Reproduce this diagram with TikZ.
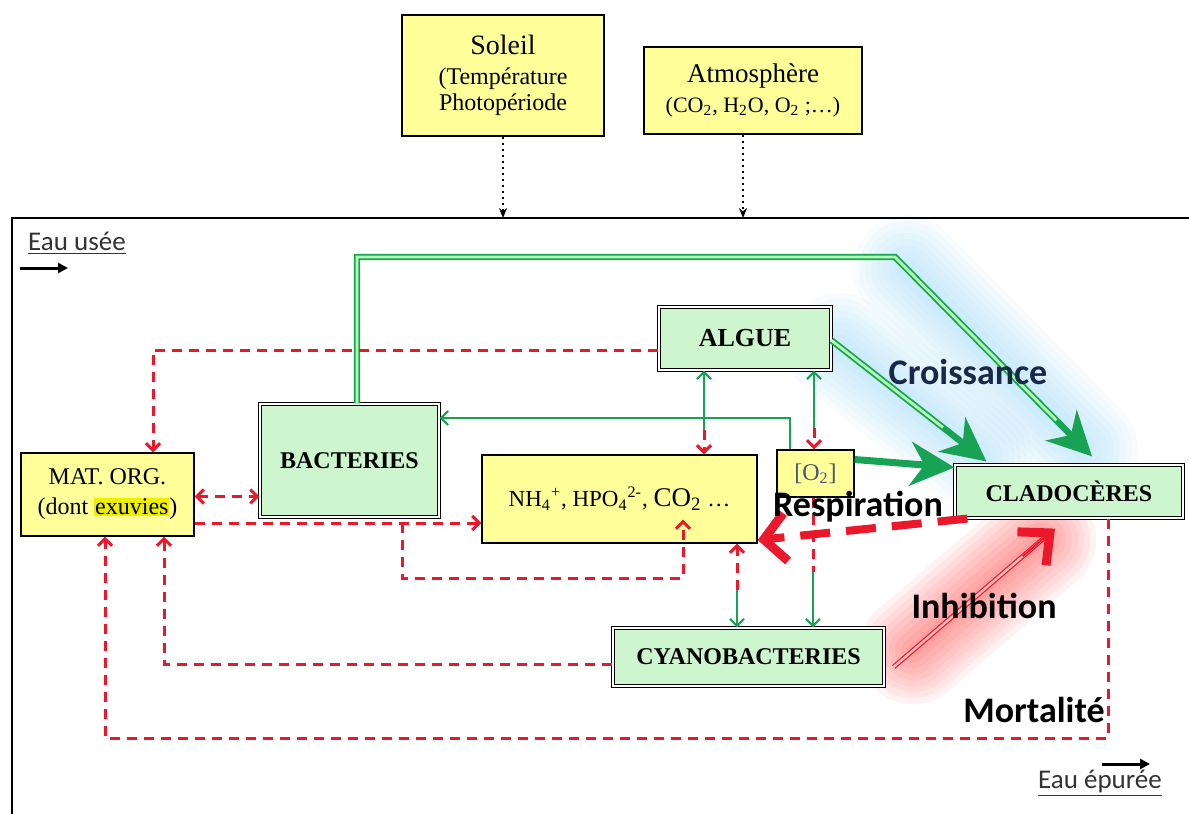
\documentclass[tikz,border=0pt]{standalone}
\usepackage{fontspec}
\setmainfont{Liberation Serif}
\newfontfamily\calib{Carlito}
\usetikzlibrary{arrows.meta,calc,backgrounds}

\definecolor{boxyellow}{RGB}{255,255,153}
\definecolor{boxgreen}{RGB}{206,246,206}
\definecolor{linegreen}{RGB}{24,163,84}
\definecolor{linered}{RGB}{234,24,42}
\definecolor{glowblue}{RGB}{130,205,245}
\definecolor{otwoblue}{RGB}{70,85,120}
\definecolor{hiyellow}{RGB}{238,238,0}
\definecolor{croissblue}{RGB}{25,40,70}

\tikzset{
  jaune/.style={draw=black, line width=0.7pt, fill=boxyellow, align=center, inner sep=2pt},
  vertbox/.style={draw=black, line width=0.6pt, double=white, double distance=1.2pt,
    fill=boxgreen, align=center, font=\bfseries\fontsize{12}{13}\selectfont},
  rouge/.style={draw=linered, line width=1.5pt, dash pattern=on 5pt off 3.5pt, ->},
  vert/.style={draw=linegreen, line width=1.1pt, ->},
  dblvert/.style={draw=linegreen, line width=0.9pt, double=green!30!white, double distance=1.4pt},
  bigvert/.style={draw=linegreen, line width=2pt, -{Stealth[length=22pt,width=22pt,inset=7pt]}},
  dblrouge/.style={draw=linered, line width=0.6pt, double=red!25!white, double distance=1.2pt},
  bigrouge/.style={draw=linered, line width=1pt, -{Straight Barb[length=12pt,width=22pt,line width=4.5pt]}},
  respi/.style={draw=linered, line width=4pt, dash pattern=on 15pt off 8pt,
    -{Straight Barb[length=11pt,width=24pt,line width=4.5pt]}},
  pointille/.style={draw=black, line width=1pt, dotted, -{Stealth[length=5pt,width=4pt]}},
  flux/.style={draw=black, line width=1.5pt, -{Triangle[length=5pt,width=5pt]}},
  lbl/.style={font=\calib\bfseries\fontsize{18}{20}\selectfont, inner sep=0pt},
  eau/.style={font=\calib\fontsize{13.5}{15}\selectfont, text=black!80, inner sep=0pt},
  >={Straight Barb[length=3.5pt,width=7pt]}
}

\begin{document}
\begin{tikzpicture}[x=0.5pt, y=-0.5pt]
\useasboundingbox (0,0) rectangle (1189,814);

% Bassin
\draw[line width=0.8pt] (1189,218) -- (12,218) -- (12,814);
\coordinate (haut) at (0,218);

% Facteurs externes
\node[jaune, font=\fontsize{12}{13}\selectfont, minimum width=101pt, minimum height=60.5pt] (soleil) at (503,75.5)
  {{\fontsize{14}{14}\selectfont Soleil}\\[2pt](Température\\Photopériode};
\node[jaune, font=\fontsize{11}{14}\selectfont, minimum width=109pt, minimum height=43.5pt] (atmo) at (753,90.5)
  {{\fontsize{13.5}{14}\selectfont Atmosphère}\\[1pt](CO\textsubscript{2}, H\textsubscript{2}O, O\textsubscript{2} ;…)};
\draw[pointille] (soleil.south) -- (soleil.south |- haut);
\draw[pointille] ([xshift=-5pt]atmo.south) -- ([xshift=-5pt]atmo.south |- haut);

% Compartiments
\node[vertbox, font=\bfseries\fontsize{13}{14}\selectfont, minimum width=86pt, minimum height=31.5pt] (algue) at (745,338.5) {ALGUE};
\node[vertbox, minimum width=89.5pt, minimum height=56.5pt] (bact) at (349.5,460.5) {BACTERIES};
\node[jaune, font=\fontsize{12}{15}\selectfont, minimum width=86.5pt, minimum height=41.5pt] (matorg) at (107.5,494.5)
  {MAT. ORG.\\(dont {\setlength{\fboxsep}{0.5pt}\colorbox{hiyellow}{exuvies}})};
\node[jaune, font=\fontsize{11.5}{13}\selectfont, minimum width=137.5pt, minimum height=44pt] (nh) at (619.5,499)
  {NH\textsubscript{4}\textsuperscript{+}, HPO\textsubscript{4}\textsuperscript{2-}, {\fontsize{13.5}{13}\selectfont CO\textsubscript{2}} …};
\node[jaune, text=otwoblue, font=\fontsize{12}{13}\selectfont, minimum width=38.5pt, minimum height=23.5pt] (otwo) at (815.5,473.5) {[O\textsubscript{2}]};
\node[vertbox, minimum width=114pt, minimum height=26.5pt] (clado) at (1069,491.5) {CLADOCÈRES};
\node[vertbox, minimum width=135.5pt, minimum height=29pt] (cyano) at (748.5,657) {CYANOBACTERIES};

% Croissance
\coordinate (hautG) at (357,257);
\coordinate (hautD) at (895,257);
\coordinate (tipD) at ([xshift=11.5pt,yshift=4pt]clado.north);
\coordinate (tipG) at ([xshift=16pt,yshift=1.5pt]clado.north west);
\coordinate (algE) at ([yshift=-1pt]algue.east);
\draw[dblvert, shorten >=12pt] (bact.north -| hautG) -- (hautG) -- (hautD) -- (tipD);
\draw[bigvert] ($(hautD)!0.82!(tipD)$) -- (tipD);
\draw[dblvert, shorten >=12pt] (algE) -- (tipG);
\draw[bigvert] ($(algE)!0.72!(tipG)$) -- (tipG);
\draw[bigvert, line width=3.5pt] ([yshift=7pt]otwo.east) -- ([yshift=-1.5pt]clado.north west);

% Oxygene
\coordinate (oCoude) at (790,418);
\draw[vert] (otwo.north -| oCoude) -- (oCoude) -- (oCoude -| bact.east);
\coordinate (aN) at (704,430);
\coordinate (aO) at (814,428);
\draw[vert] (aN) -- (aN |- algue.south);
\draw[rouge] (aN) -- (aN |- nh.north);
\draw[vert] (aO) -- (aO |- algue.south);
\draw[rouge] (aO) -- (aO |- otwo.north);

% Recyclage
\coordinate (aM) at (153,350);
\draw[rouge] (algue.west |- aM) -- (aM) -- (aM |- matorg.north);
\draw[rouge, <->] ([yshift=-1pt]matorg.east) -- ([yshift=-1pt]matorg.east -| bact.west);
\coordinate (mN) at (402,523);
\draw[rouge] (mN -| matorg.east) -- (mN -| nh.west);
\coordinate (nB) at (683,578);
\draw[rouge] (mN) |- (nB) -- ([yshift=12pt]nB |- nh.south);
\coordinate (nC) at (737,590);
\draw[rouge] (nC) -- (nC |- nh.south);
\draw[vert] (nC) -- (nC |- cyano.north);
\coordinate (oC) at (813,572);
\draw[rouge, -] (oC |- otwo.south) -- (oC);
\draw[vert] (oC) -- (oC |- cyano.north);

% Respiration
\draw[respi] ([xshift=6.5pt]clado.south west) -- ([yshift=-20.5pt]nh.east);

% Inhibition
\coordinate (iDep) at ([xshift=4.5pt,yshift=-5pt]cyano.east);
\coordinate (iArr) at ([xshift=-7pt,yshift=-5pt]clado.south);
\draw[dblrouge, shorten >=6pt] (iDep) -- (iArr);
\draw[bigrouge] ($(iDep)!0.8!(iArr)$) -- (iArr);

% Mortalite
\coordinate (cM) at (164,664);
\draw[rouge] (cM -| cyano.west) -- (cM) -- (cM |- matorg.south);
\coordinate (dD) at (1108,738);
\coordinate (dG) at (105,738);
\draw[rouge] (dD |- clado.south) -- (dD) -- (dG) -- (dG |- matorg.south);

% Textes
\node[lbl, text=croissblue] (croiss) at (968,372) {Croissance};
\node[lbl] (respiL) at (858,507) {Respiration};
\node[lbl] (inhib) at (984,606) {Inhibition};
\node[lbl] (mort) at (1034,710) {Mortalité};

\node[eau] (usee) at (77,243) {\underline{Eau usée}};
\coordinate (uA) at (20,268);
\coordinate (uB) at (68,268);
\draw[flux] (uA) -- (uB);
\node[eau] (epuree) at (1100,783) {\underline{Eau épurée}};
\coordinate (eA) at (1102,764);
\coordinate (eB) at (1150,764);
\draw[flux] (eA) -- (eB);

% Halos
\begin{scope}[on background layer]
\foreach \w in {6,12,...,54}{
  \draw[glowblue, line width=\w pt, opacity=0.06, line cap=round] ($(hautD)!0.06!(tipD)$) -- ($(hautD)!0.96!(tipD)$);
  \draw[glowblue, line width=\w pt, opacity=0.06, line cap=round] ($(algE)!0.05!(tipG)$) -- ($(algE)!0.95!(tipG)$);
  \draw[red, line width=\w pt, opacity=0.05, line cap=round] ($(iDep)!0.12!(iArr)$) -- ($(iDep)!0.92!(iArr)$);
}
\end{scope}

\end{tikzpicture}
\end{document}
